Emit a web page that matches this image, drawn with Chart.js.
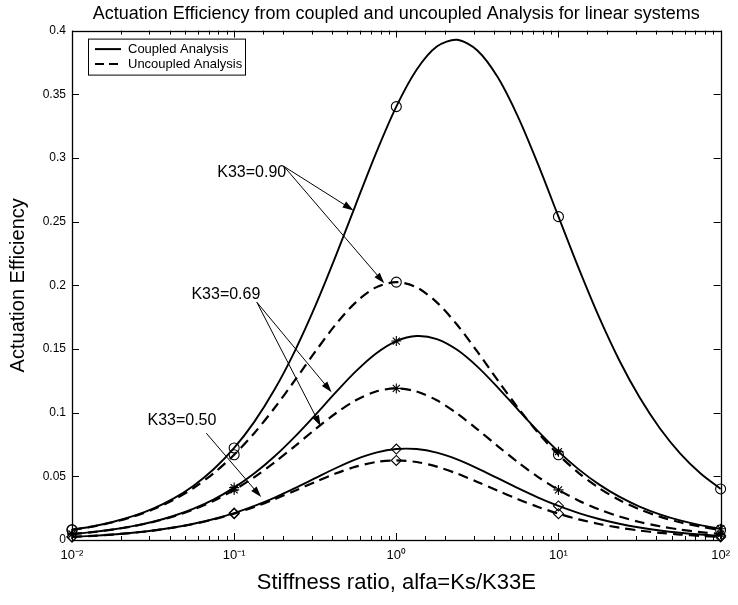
<!DOCTYPE html>
<html>
<head>
<meta charset="utf-8">
<script src="https://cdn.jsdelivr.net/npm/chart.js@4.4.1/dist/chart.umd.min.js"></script>
<style>
  html, body { margin: 0; padding: 0; background: #fff; }
</style>
</head>
<body>
<canvas id="myChart" width="738" height="605"></canvas>
<script>
// stiffness ratio alfa (eighth-decade steps)
var alfa = [0.01, 0.01334, 0.01778, 0.02371, 0.03162, 0.04217, 0.05623, 0.07499,
  0.1, 0.1334, 0.1778, 0.2371, 0.3162, 0.4217, 0.5623, 0.7499,
  1, 1.334, 1.778, 2.371, 3.162, 4.217, 5.623, 7.499,
  10, 13.34, 17.78, 23.71, 31.62, 42.17, 56.23, 74.99, 100];

// coupled analysis
var coupled090 = [0.00801, 0.01063, 0.01411, 0.01868, 0.02468, 0.03251, 0.04267, 0.05571,
  0.07226, 0.09295, 0.11830, 0.14857, 0.18358, 0.22244, 0.26340, 0.30383,
  0.34034, 0.36931, 0.38752, 0.39277, 0.38442, 0.36350, 0.33248, 0.29474,
  0.25392, 0.21323, 0.17514, 0.14117, 0.11203, 0.08780, 0.06811, 0.05242, 0.04010];
var coupled069 = [0.00469, 0.00622, 0.00824, 0.01089, 0.01436, 0.01885, 0.02462, 0.03196,
  0.04113, 0.05236, 0.06576, 0.08118, 0.09813, 0.11567, 0.13237, 0.14648,
  0.15621, 0.16017, 0.15776, 0.14934, 0.13615, 0.11991, 0.10239, 0.08523,
  0.06937, 0.05546, 0.04369, 0.03403, 0.02627, 0.02014, 0.01536, 0.01166, 0.00883];
var coupled050 = [0.00246, 0.00326, 0.00431, 0.00569, 0.00749, 0.00981, 0.01277, 0.01651,
  0.02114, 0.02674, 0.03330, 0.04069, 0.04855, 0.05634, 0.06329, 0.06857,
  0.07143, 0.07143, 0.06857, 0.06329, 0.05633, 0.04855, 0.04068, 0.03330,
  0.02674, 0.02114, 0.01651, 0.01277, 0.00980, 0.00749, 0.00569, 0.00431, 0.00326];

// uncoupled analysis
var uncoupled090 = [0.00794, 0.01052, 0.01391, 0.01833, 0.02407, 0.03145, 0.04083, 0.05256,
  0.06694, 0.08409, 0.10383, 0.12550, 0.14785, 0.16900, 0.18661, 0.19836,
  0.2025, 0.19836, 0.18661, 0.16900, 0.14785, 0.12550, 0.10383, 0.08409,
  0.06694, 0.05256, 0.04083, 0.03145, 0.02407, 0.01833, 0.01391, 0.01052, 0.00794];
var uncoupled069 = [0.00467, 0.00618, 0.00817, 0.01077, 0.01415, 0.01849, 0.02400, 0.03090,
  0.03935, 0.04943, 0.06103, 0.07377, 0.08690, 0.09933, 0.10968, 0.11659,
  0.11903, 0.11659, 0.10968, 0.09933, 0.08690, 0.07377, 0.06103, 0.04943,
  0.03935, 0.03090, 0.02400, 0.01849, 0.01415, 0.01077, 0.00817, 0.00618, 0.00467];
var uncoupled050 = [0.00245, 0.00325, 0.00429, 0.00566, 0.00743, 0.00971, 0.01260, 0.01622,
  0.02066, 0.02596, 0.03205, 0.03874, 0.04563, 0.05216, 0.05760, 0.06122,
  0.0625, 0.06122, 0.05760, 0.05216, 0.04563, 0.03874, 0.03205, 0.02596,
  0.02066, 0.01622, 0.01260, 0.00971, 0.00743, 0.00566, 0.00429, 0.00325, 0.00245];

var xTickLabels = ['10\u207B\u00B2', '10\u207B\u00B9', '10\u2070', '10\u00B9', '10\u00B2'];
var yTickLabels = ['0', '0.05', '0.1', '0.15', '0.2', '0.25', '0.3', '0.35', '0.4'];

// text + arrows, in data coordinates (alfa, efficiency)
var notes = [
  { text: 'K33=0.90', at: [0.0787, 0.2886], from: [0.203, 0.2933], to: [[0.545, 0.2588], [0.843, 0.2016]] },
  { text: 'K33=0.69', at: [0.0545, 0.1929], from: [0.138, 0.1867], to: [[0.399, 0.116], [0.342, 0.0894]] },
  { text: 'K33=0.50', at: [0.0292, 0.0941], from: [0.0673, 0.0839], to: [[0.1466, 0.0337]] }
];

var FONT = "'Liberation Sans', Arial, Helvetica, sans-serif";

function isDecade(v) {
  var l = Math.log10(v);
  return Math.abs(l - Math.round(l)) < 1e-6;
}

function pts(ys) {
  return alfa.map(function (a, i) { return { x: a, y: ys[i] }; });
}

function series(label, ys, marker, dashed) {
  return {
    label: label,
    data: pts(ys),
    borderColor: '#000',
    borderWidth: dashed ? 2.2 : 1.9,
    borderDash: dashed ? [10, 6] : [],
    tension: 0.3,
    fill: false,
    clip: 10,
    pointStyle: marker,
    pointRadius: function (c) { return isDecade(alfa[c.dataIndex]) ? 5 : 0; },
    pointHoverRadius: 0,
    pointBorderColor: '#000',
    pointBorderWidth: 1.1,
    pointBackgroundColor: 'rgba(0,0,0,0)'
  };
}

var frame = {
  id: 'frame',
  afterDatasetsDraw: function (chart) {
    var c = chart.ctx, a = chart.chartArea;
    var xs = chart.scales.x, ys = chart.scales.y;
    c.save();
    c.strokeStyle = '#000';
    c.lineWidth = 1;
    c.beginPath();
    xs.ticks.forEach(function (t) {
      var px = Math.round(xs.getPixelForValue(t.value)) + 0.5;
      var len = isDecade(t.value) ? 7 : 4;
      c.moveTo(px, a.bottom); c.lineTo(px, a.bottom - len);
      c.moveTo(px, a.top); c.lineTo(px, a.top + len);
    });
    ys.ticks.forEach(function (t) {
      var py = Math.round(ys.getPixelForValue(t.value)) + 0.5;
      c.moveTo(a.left, py); c.lineTo(a.left + 7, py);
      c.moveTo(a.right, py); c.lineTo(a.right - 7, py);
    });
    c.stroke();
    c.lineWidth = 1.3;
    c.strokeRect(Math.round(a.left) + 0.5, Math.round(a.top) + 0.5, Math.round(a.right - a.left), Math.round(a.bottom - a.top));

    // annotations
    c.fillStyle = '#000';
    c.font = '16px ' + FONT;
    c.textBaseline = 'middle';
    c.lineWidth = 1;
    notes.forEach(function (n) {
      c.fillText(n.text, xs.getPixelForValue(n.at[0]), ys.getPixelForValue(n.at[1]));
      var fx = xs.getPixelForValue(n.from[0]), fy = ys.getPixelForValue(n.from[1]);
      n.to.forEach(function (p) {
        var tx = xs.getPixelForValue(p[0]), ty = ys.getPixelForValue(p[1]);
        var ang = Math.atan2(ty - fy, tx - fx);
        c.beginPath();
        c.moveTo(fx, fy); c.lineTo(tx - 8 * Math.cos(ang), ty - 8 * Math.sin(ang));
        c.stroke();
        c.beginPath();
        c.moveTo(tx, ty);
        c.lineTo(tx - 11 * Math.cos(ang) + 3.5 * Math.sin(ang), ty - 11 * Math.sin(ang) - 3.5 * Math.cos(ang));
        c.lineTo(tx - 11 * Math.cos(ang) - 3.5 * Math.sin(ang), ty - 11 * Math.sin(ang) + 3.5 * Math.cos(ang));
        c.closePath();
        c.fill();
      });
    });

    // legend box
    var lx = a.left + 16, ly = a.top + 8;
    c.fillStyle = '#fff';
    c.fillRect(lx, ly, 157, 36);
    c.strokeStyle = '#000';
    c.lineWidth = 1;
    c.strokeRect(lx + 0.5, ly + 0.5, 157, 36);
    c.lineWidth = 2;
    c.beginPath();
    c.moveTo(lx + 7, ly + 10.5); c.lineTo(lx + 33, ly + 10.5);
    c.stroke();
    c.setLineDash([9, 5]);
    c.beginPath();
    c.moveTo(lx + 7, ly + 25.5); c.lineTo(lx + 33, ly + 25.5);
    c.stroke();
    c.setLineDash([]);
    c.fillStyle = '#000';
    c.font = '13px ' + FONT;
    c.textBaseline = 'middle';
    c.fillText('Coupled Analysis', lx + 40, ly + 10.5);
    c.fillText('Uncoupled Analysis', lx + 40, ly + 25.5);
    c.restore();
  }
};

var ctx = document.getElementById('myChart').getContext('2d');
var myChart = new Chart(ctx, {
  type: 'line',
  data: {
    datasets: [
      series('Coupled K33=0.90', coupled090, 'circle', false),
      series('Uncoupled K33=0.90', uncoupled090, 'circle', true),
      series('Coupled K33=0.69', coupled069, 'star', false),
      series('Uncoupled K33=0.69', uncoupled069, 'star', true),
      series('Coupled K33=0.50', coupled050, 'rectRot', false),
      series('Uncoupled K33=0.50', uncoupled050, 'rectRot', true)
    ]
  },
  options: {
    responsive: false,
    animation: false,
    devicePixelRatio: 1,
    layout: { padding: { left: 0, right: 14, top: 0, bottom: 0 } },
    plugins: {
      legend: { display: false },
      tooltip: { enabled: false },
      title: {
        display: true,
        fullSize: false,
        text: 'Actuation Efficiency from coupled and uncoupled Analysis for linear systems',
        color: '#000',
        font: { family: FONT, size: 18, weight: 'normal' },
        padding: { top: 3, bottom: 6 }
      }
    },
    scales: {
      x: {
        type: 'logarithmic',
        min: 0.01,
        max: 100,
        grid: { display: false, drawTicks: false },
        border: { display: false },
        ticks: {
          autoSkip: false,
          maxRotation: 0,
          padding: 8,
          color: '#000',
          font: { family: FONT, size: 13 },
          callback: function (v) {
            return isDecade(v) ? xTickLabels[Math.round(Math.log10(v)) + 2] : '';
          }
        },
        title: {
          display: true,
          text: 'Stiffness ratio, alfa=Ks/K33E',
          color: '#000',
          font: { family: FONT, size: 22 },
          padding: { top: 0, bottom: 9 }
        },
        afterFit: function (s) { s.height = 65; }
      },
      y: {
        min: 0,
        max: 0.4,
        grid: { display: false, drawTicks: false },
        border: { display: false },
        ticks: {
          stepSize: 0.05,
          padding: 6,
          color: '#000',
          font: { family: FONT, size: 12 },
          callback: function (v) { return yTickLabels[Math.round(v / 0.05)]; }
        },
        title: {
          display: true,
          text: 'Actuation Efficiency',
          color: '#000',
          font: { family: FONT, size: 20 },
          padding: { top: 6, bottom: 0 }
        },
        afterFit: function (s) { s.width = 72; }
      }
    }
  },
  plugins: [frame]
});
</script>
</body>
</html>
